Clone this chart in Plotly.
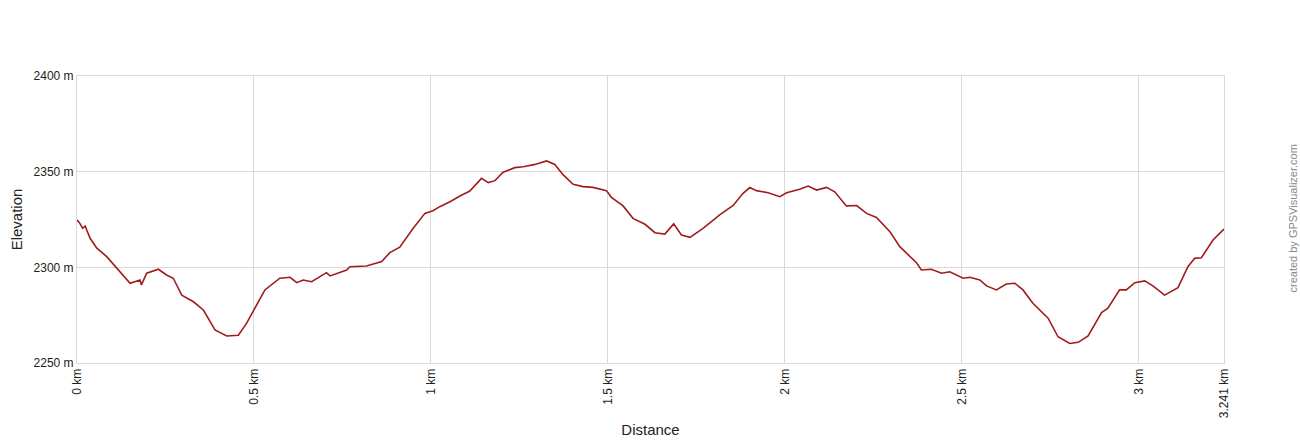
import plotly.graph_objects as go

distance_km = [0.000, 0.008, 0.016, 0.023, 0.037, 0.056, 0.084, 0.112, 0.150, 0.178, 0.182,
               0.197, 0.230, 0.253, 0.272, 0.296, 0.329, 0.357, 0.390, 0.423, 0.456, 0.479,
               0.503, 0.531, 0.573, 0.602, 0.621, 0.639, 0.663, 0.705, 0.715, 0.762, 0.771,
               0.818, 0.861, 0.884, 0.912, 0.950, 0.983, 1.006, 1.025, 1.054, 1.082, 1.110,
               1.143, 1.162, 1.181, 1.204, 1.237, 1.261, 1.294, 1.327, 1.350, 1.374, 1.402,
               1.430, 1.458, 1.496, 1.510, 1.543, 1.571, 1.605, 1.633, 1.661, 1.686, 1.708,
               1.732, 1.769, 1.816, 1.854, 1.882, 1.901, 1.920, 1.953, 1.986, 2.005, 2.042,
               2.066, 2.090, 2.118, 2.141, 2.174, 2.203, 2.231, 2.259, 2.297, 2.325, 2.353,
               2.372, 2.386, 2.414, 2.443, 2.466, 2.504, 2.523, 2.551, 2.570, 2.598, 2.626,
               2.650, 2.673, 2.701, 2.744, 2.772, 2.805, 2.829, 2.857, 2.895, 2.913, 2.946,
               2.965, 2.989, 3.017, 3.040, 3.073, 3.111, 3.139, 3.158, 3.177, 3.210, 3.241]

elevation_m = [2324.8, 2323.0, 2320.4, 2321.6, 2315.2, 2310.0, 2305.6, 2299.5, 2291.7, 2293.4, 2290.8,
               2296.9, 2299.0, 2296.0, 2294.3, 2285.5, 2282.0, 2277.7, 2267.3, 2264.1, 2264.5, 2270.7,
               2278.6, 2288.2, 2294.3, 2294.8, 2292.0, 2293.4, 2292.5, 2297.2, 2295.5, 2298.6, 2300.3,
               2300.7, 2303.0, 2307.7, 2310.5, 2320.4, 2328.2, 2329.6, 2331.7, 2334.3, 2337.3, 2339.9,
               2346.5, 2344.3, 2345.3, 2349.7, 2352.1, 2352.6, 2353.8, 2355.6, 2353.8, 2348.3, 2343.4,
               2342.2, 2341.8, 2340.1, 2336.6, 2332.1, 2325.6, 2322.5, 2318.1, 2317.4, 2322.7, 2316.9,
               2315.7, 2320.4, 2327.4, 2332.3, 2338.7, 2341.7, 2340.1, 2339.0, 2336.9, 2339.0, 2340.8,
               2342.5, 2340.4, 2341.8, 2339.5, 2332.1, 2332.3, 2328.2, 2326.1, 2318.6, 2310.8, 2305.6,
               2302.4, 2298.6, 2299.0, 2296.9, 2297.7, 2294.3, 2294.8, 2293.4, 2290.3, 2288.2, 2291.3,
               2291.7, 2288.2, 2281.2, 2273.4, 2263.7, 2260.2, 2260.8, 2264.1, 2276.3, 2278.6, 2288.2,
               2288.2, 2292.0, 2292.9, 2290.3, 2285.5, 2289.4, 2300.3, 2304.7, 2305.0, 2314.3, 2320.0]

x_tick_vals = [0, 0.5, 1, 1.5, 2, 2.5, 3, 3.241]
x_tick_text = ["0 km", "0.5 km", "1 km", "1.5 km", "2 km", "2.5 km", "3 km", "3.241 km"]
y_tick_vals = [2250, 2300, 2350, 2400]
y_tick_text = ["2250 m", "2300 m", "2350 m", "2400 m"]

fig = go.Figure()
fig.add_trace(go.Scatter(
    x=distance_km, y=elevation_m, mode="lines",
    line=dict(color="#a01c1c", width=1.6),
    hoverinfo="skip", showlegend=False,
))

font_family = "Liberation Sans, Arial, sans-serif"
grid = "#d9d9d9"

fig.update_layout(
    width=1300, height=440,
    margin=dict(l=77, r=76, t=76, b=77),
    paper_bgcolor="white", plot_bgcolor="white",
    font=dict(family=font_family, size=12, color="#222"),
    xaxis=dict(
        range=[0, 3.241], tickvals=x_tick_vals, ticktext=x_tick_text,
        tickangle=-90, showgrid=True, gridcolor=grid, gridwidth=1,
        zeroline=False, showline=True, linecolor=grid, mirror=True,
        ticks="", tickfont=dict(size=12, color="#222"), automargin=False,
        title=dict(text="Distance", font=dict(size=15, color="#222"), standoff=7),
    ),
    yaxis=dict(
        range=[2250, 2400], tickvals=y_tick_vals, ticktext=y_tick_text,
        showgrid=True, gridcolor=grid, gridwidth=1,
        zeroline=False, showline=True, linecolor=grid, mirror=True,
        ticks="", tickfont=dict(size=12, color="#222"), automargin=False,
        title=dict(text="Elevation", font=dict(size=15, color="#222"), standoff=7),
    ),
    annotations=[dict(
        text="created by GPSVisualizer.com", xref="paper", yref="paper",
        x=1.0, xshift=76, y=0.5, yshift=1, textangle=-90, showarrow=False,
        font=dict(size=11, color="#888"),
    )],
)

fig.write_html("out.html", config={"displayModeBar": False},
               post_script="document.body.style.margin='0';")
